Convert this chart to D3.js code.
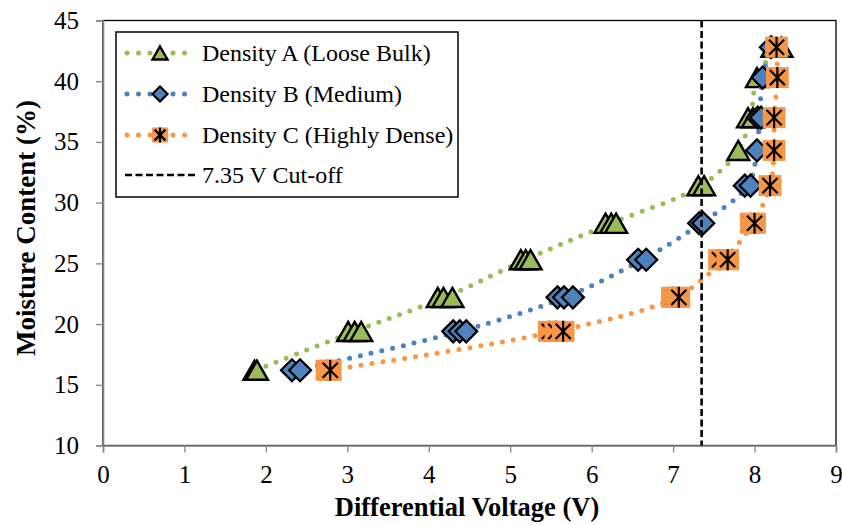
<!DOCTYPE html>
<html>
<head>
<meta charset="utf-8">
<script src="https://cdn.jsdelivr.net/npm/d3@7"></script>
<style>
  html, body { margin: 0; padding: 0; background: #fff; }
  svg { display: block; font-family: "Liberation Serif", "Times New Roman", serif; }
</style>
</head>
<body>
<svg id="chart" width="842" height="525"></svg>
<script>
// Moisture content levels (%) shared by every density
const moisture = [16.2, 19.4, 22.2, 25.3, 28.3, 31.4, 34.3, 37.0, 40.3, 42.8];

// Differential voltage readings (V), replicate readings per moisture level
const densityA = [[1.86, 1.89], [3.01, 3.09, 3.17], [4.11, 4.18, 4.29], [5.13, 5.19, 5.25],
                  [6.17, 6.24, 6.30], [7.31, 7.38], [7.80], [7.92, 7.98], [8.03], [8.22, 8.33]];
const densityB = [[2.32, 2.42], [4.30, 4.38, 4.46], [5.58, 5.66, 5.77], [6.57, 6.67],
                  [7.32, 7.37], [7.88, 7.95], [8.03], [8.04, 8.08], [8.10], [8.20]];
const densityC = [[2.75, 2.79], [5.48, 5.56, 5.65], [6.99, 7.03, 7.07], [7.57, 7.67],
                  [7.96, 8.00], [8.19], [8.24], [8.24], [8.28], [8.27]];

const seriesNames = ["Density A (Loose Bulk)", "Density B (Medium)", "Density C (Highly Dense)"];
const cutoffVoltage = 7.35;
const cutoffLabel = "7.35 V Cut-off";

const xTicks = [0, 1, 2, 3, 4, 5, 6, 7, 8, 9];
const yTicks = [10, 15, 20, 25, 30, 35, 40, 45];

const colors = ["#9BBB59", "#4F81BD", "#F79646"];
const markerKinds = ["triangle", "diamond", "star"];

const serif = "'Liberation Serif', 'Times New Roman', serif";
const svg = d3.select("#chart");
const plot = { left: 103, right: 836, top: 20.5, bottom: 445.5 };

const x = d3.scaleLinear().domain([0, 9]).range([plot.left, plot.right]);
const y = d3.scaleLinear().domain([10, 45]).range([plot.bottom, plot.top]);

// Plot area outline (top and right edges show dark)
svg.append("rect")
  .attr("x", plot.left).attr("y", plot.top)
  .attr("width", plot.right - plot.left).attr("height", plot.bottom - plot.top)
  .attr("fill", "none").attr("stroke", "#000").attr("stroke-width", 1.3);

// Axes
const axisColor = "#868686";
const xAxis = svg.append("g")
  .attr("transform", `translate(0,${plot.bottom})`)
  .call(d3.axisBottom(x).tickValues(xTicks).tickSize(7).tickPadding(13).tickFormat(d3.format("d")));
const yAxis = svg.append("g")
  .attr("transform", `translate(${plot.left},0)`)
  .call(d3.axisLeft(y).tickValues(yTicks).tickSize(7).tickPadding(17).tickFormat(d3.format("d")));
[xAxis, yAxis].forEach(g => {
  g.attr("font-family", null).attr("font-size", null);
  g.select(".domain").attr("stroke", axisColor).attr("stroke-width", 1.6);
  g.selectAll(".tick line").attr("stroke", axisColor).attr("stroke-width", 1.3);
  g.selectAll(".tick text").attr("fill", "#000")
    .style("font-family", serif).style("font-size", "25px");
});

// Axis titles
svg.append("text")
  .attr("x", 467).attr("y", 516)
  .attr("text-anchor", "middle")
  .style("font-family", serif).style("font-weight", "bold").style("font-size", "26.5px")
  .text("Differential Voltage (V)");
svg.append("text")
  .attr("transform", `translate(35,228) rotate(-90)`)
  .attr("text-anchor", "middle")
  .style("font-family", serif).style("font-weight", "bold").style("font-size", "27px")
  .text("Moisture Content (%)");

// Marker drawing
function drawMarker(g, kind, color, s) {
  if (kind === "triangle") {
    const h = s * 0.87;
    g.append("path")
      .attr("d", `M0,${-h / 2}L${s / 2},${h / 2}L${-s / 2},${h / 2}Z`)
      .attr("fill", color).attr("stroke", "#000").attr("stroke-width", 2.4)
      .attr("stroke-linejoin", "miter");
  } else if (kind === "diamond") {
    const r = s / 2;
    g.append("path")
      .attr("d", `M0,${-r}L${r},0L0,${r}L${-r},0Z`)
      .attr("fill", color).attr("stroke", "#000").attr("stroke-width", 2.2)
      .attr("stroke-linejoin", "miter");
  } else {
    const r = s / 2;
    g.append("rect")
      .attr("x", -r * 1.08).attr("y", -r).attr("width", s * 1.08).attr("height", s)
      .attr("fill", color);
    const k = r * 0.72;
    g.append("path")
      .attr("d", `M${-k},${-k}L${k},${k}M${k},${-k}L${-k},${k}M0,${-r}L0,${r}`)
      .attr("stroke", "#000").attr("stroke-width", 2.2).attr("fill", "none");
  }
}

// Series: dotted smooth line through level means, then replicate markers
const allSeries = [densityA, densityB, densityC];
const line = d3.line()
  .x(d => x(d[0])).y(d => y(d[1]))
  .curve(d3.curveCatmullRom.alpha(0.5));

allSeries.forEach((series, i) => {
  const means = series.map((reps, j) => [d3.mean(reps), moisture[j]]);
  svg.append("path")
    .datum(means)
    .attr("d", line)
    .attr("fill", "none")
    .attr("stroke", colors[i])
    .attr("stroke-width", 5)
    .attr("stroke-linecap", "round")
    .attr("stroke-dasharray", "0 11");

  const pts = [];
  series.forEach((reps, j) => reps.forEach(v => pts.push([v, moisture[j]])));
  pts.forEach(p => {
    const g = svg.append("g").attr("transform", `translate(${x(p[0])},${y(p[1])})`);
    drawMarker(g, markerKinds[i], colors[i], markerKinds[i] === "star" ? 21 : 22);
  });
});

// Cut-off line
svg.append("line")
  .attr("x1", x(cutoffVoltage)).attr("x2", x(cutoffVoltage))
  .attr("y1", plot.top).attr("y2", plot.bottom)
  .attr("stroke", "#000").attr("stroke-width", 2.6)
  .attr("stroke-dasharray", "7 3.5");

// Legend
const legend = svg.append("g");
legend.append("rect")
  .attr("x", 116).attr("y", 32).attr("width", 342).attr("height", 165)
  .attr("fill", "#fff").attr("stroke", "#000").attr("stroke-width", 1.5);
const rowY = [53, 94, 135, 175];
seriesNames.forEach((name, i) => {
  legend.append("line")
    .attr("x1", 127).attr("x2", 187).attr("y1", rowY[i]).attr("y2", rowY[i])
    .attr("stroke", colors[i]).attr("stroke-width", 5)
    .attr("stroke-linecap", "round").attr("stroke-dasharray", "0 11.5");
  const g = legend.append("g").attr("transform", `translate(160,${rowY[i]})`);
  drawMarker(g, markerKinds[i], colors[i], 15);
  legend.append("text")
    .attr("x", 202).attr("y", rowY[i]).attr("dy", "0.34em")
    .style("font-family", serif).style("font-size", "24px").text(name);
});
legend.append("line")
  .attr("x1", 125).attr("x2", 196).attr("y1", rowY[3]).attr("y2", rowY[3])
  .attr("stroke", "#000").attr("stroke-width", 2.6).attr("stroke-dasharray", "7 3.5");
legend.append("text")
  .attr("x", 202).attr("y", rowY[3]).attr("dy", "0.34em")
  .style("font-family", serif).style("font-size", "24px").text(cutoffLabel);
</script>
</body>
</html>
